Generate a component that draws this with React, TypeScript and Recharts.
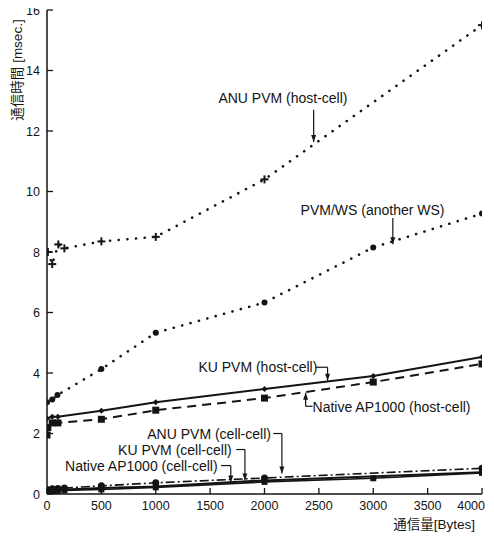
import React from 'react';
import { LineChart, Line, XAxis, YAxis, ReferenceLine, ReferenceDot } from 'recharts';

const FONT = 'Arial, "Liberation Sans", "Noto Sans CJK JP", sans-serif';
const INK = '#141414';

// ---- axes ----
const xTicks = [0, 500, 1000, 1500, 2000, 2500, 3000, 3500, 4000];
const yTicks = [0, 2, 4, 6, 8, 10, 12, 14, 16];
const xTitle = '通信量[Bytes]';
const yTitle = '通信時間 [msec.]';

// ---- series (x = bytes, y = msec) ----
const anuHostX = [8, 48, 104, 160, 500, 1000, 2000, 4000];
const anuHostY = [8.0, 7.6, 8.25, 8.12, 8.35, 8.5, 10.4, 15.5];

const pvmWsX = [0, 48, 96, 500, 1000, 2000, 3000, 4000];
const pvmWsY = [3.03, 3.12, 3.27, 4.13, 5.33, 6.33, 8.15, 9.27];

const kuHostX = [0, 48, 100, 500, 1000, 2000, 3000, 4000];
const kuHostY = [2.5, 2.55, 2.55, 2.75, 3.03, 3.47, 3.9, 4.53];

const nativeHostX = [0, 8, 48, 100, 500, 1000, 2000, 3000, 4000];
const nativeHostY = [1.95, 2.2, 2.35, 2.35, 2.47, 2.77, 3.17, 3.7, 4.3];

const anuCellX = [0, 48, 100, 160, 500, 1000, 2000, 4000];
const anuCellY = [0.15, 0.17, 0.18, 0.2, 0.27, 0.37, 0.53, 0.85];

const kuCellX = [0, 48, 100, 160, 500, 1000, 2000, 4000];
const kuCellY = [0.12, 0.13, 0.14, 0.15, 0.2, 0.25, 0.45, 0.72];

const nativeCellX = [0, 48, 100, 160, 500, 1000, 2000, 3000, 4000];
const nativeCellY = [0.08, 0.1, 0.1, 0.12, 0.15, 0.22, 0.4, 0.52, 0.7];

// ---- annotation labels ----
const labelTexts = [
  'ANU PVM (host-cell)',
  'PVM/WS (another WS)',
  'KU PVM (host-cell)',
  'Native AP1000 (host-cell)',
  'ANU PVM (cell-cell)',
  'KU PVM (cell-cell)',
  'Native AP1000 (cell-cell)',
];
// text anchor (left, middle) in data units
const labelX = [1576, 2332, 1392, 2442, 922, 654, 166];
const labelY = [13.1, 9.39, 4.19, 2.86, 2.0, 1.47, 0.94];
// leader: from (fromX, fromY) horizontally to elbowX, then vertically to tipY
const leaderFromX = [2452, 3180, 2470, 2442, 2080, 1740, 1600];
const leaderFromY = [12.7, 9.12, 4.19, 2.9, 2.0, 1.47, 0.94];
const leaderElbowX = [2452, 3180, 2580, 2378, 2160, 1820, 1690];
const leaderTipY = [11.64, 8.26, 3.74, 3.35, 0.68, 0.45, 0.38];
const leaderDir = ['down', 'down', 'down', 'up', 'down', 'down', 'down'];

const pts = (xs: number[], ys: number[]) => xs.map((x, i) => ({ x, y: ys[i] }));

const anuHost = pts(anuHostX, anuHostY);
const pvmWs = pts(pvmWsX, pvmWsY);
const kuHost = pts(kuHostX, kuHostY);
const nativeHost = pts(nativeHostX, nativeHostY);
const anuCell = pts(anuCellX, anuCellY);
const kuCell = pts(kuCellX, kuCellY);
const nativeCell = pts(nativeCellX, nativeCellY);

// ---- markers ----
const plusDot = (p: any) => {
  if (p.cx == null || p.cy == null) return <g key={p.index} />;
  return (
    <g key={p.index} stroke={INK} strokeWidth={2}>
      <line x1={p.cx - 4} y1={p.cy} x2={p.cx + 4} y2={p.cy} />
      <line x1={p.cx} y1={p.cy - 4} x2={p.cx} y2={p.cy + 4} />
    </g>
  );
};
const diamondDot = (size: number) => (p: any) => {
  if (p.cx == null || p.cy == null) return <g key={p.index} />;
  const s = size;
  return (
    <polygon
      key={p.index}
      points={`${p.cx},${p.cy - s} ${p.cx + s},${p.cy} ${p.cx},${p.cy + s} ${p.cx - s},${p.cy}`}
      fill={INK}
    />
  );
};
const circleDot = (r: number) => (p: any) => {
  if (p.cx == null || p.cy == null) return <g key={p.index} />;
  return <circle key={p.index} cx={p.cx} cy={p.cy} r={r} fill={INK} />;
};
const squareDot = (s: number) => (p: any) => {
  if (p.cx == null || p.cy == null) return <g key={p.index} />;
  return <rect key={p.index} x={p.cx - s} y={p.cy - s} width={2 * s} height={2 * s} fill={INK} />;
};

// ---- ticks (drawn inward) ----
const BottomTick = (p: any) => {
  const last = p.index === xTicks.length - 1;
  return (
    <g>
      <line x1={p.x} y1={p.y} x2={p.x} y2={p.y - 6} stroke={INK} strokeWidth={1.3} />
      <text
        x={last ? p.x + 3 : p.x}
        y={p.y + 16}
        textAnchor={last ? 'end' : 'middle'}
        fontSize={12.5}
        fontFamily={FONT}
        style={{ fill: INK }}
      >
        {p.payload.value}
      </text>
    </g>
  );
};
const LeftTick = (p: any) => (
  <g>
    <line x1={p.x} y1={p.y} x2={p.x + 6} y2={p.y} stroke={INK} strokeWidth={1.3} />
    <text x={p.x - 7} y={p.y + 4.5} textAnchor="end" fontSize={12.5} fontFamily={FONT} style={{ fill: INK }}>
      {p.payload.value}
    </text>
  </g>
);
const RightTick = (p: any) => (
  <line x1={p.x} y1={p.y} x2={p.x - 6} y2={p.y} stroke={INK} strokeWidth={1.3} />
);
const TopTick = (p: any) => (
  <line x1={p.x} y1={p.y} x2={p.x} y2={p.y + 6} stroke={INK} strokeWidth={1.3} />
);

const YTitle = (p: any) => {
  const vb = p.viewBox;
  const x = vb.x + 9;
  const y = vb.y + 60;
  return (
    <text
      x={x}
      y={y}
      transform={`rotate(-90 ${x} ${y})`}
      textAnchor="middle"
      dominantBaseline="central"
      fontSize={13.5}
      fontFamily={FONT}
      style={{ fill: INK }}
    >
      {yTitle}
    </text>
  );
};
const XTitle = (p: any) => {
  const vb = p.viewBox;
  return (
    <text
      x={vb.x + vb.width - 7}
      y={vb.y + 35}
      textAnchor="end"
      fontSize={13.5}
      fontFamily={FONT}
      style={{ fill: INK }}
    >
      {xTitle}
    </text>
  );
};

const arrowShape = (dir: string) => (p: any) => {
  const { cx, cy } = p;
  if (cx == null || cy == null) return <g />;
  const d = dir === 'down' ? -1 : 1;
  return (
    <polygon
      points={`${cx},${cy} ${cx - 2.5},${cy + d * 7} ${cx + 2.5},${cy + d * 7}`}
      fill={INK}
    />
  );
};
const textShape = (t: string) => (p: any) => {
  const { cx, cy } = p;
  if (cx == null || cy == null) return <g />;
  return (
    <text x={cx} y={cy} dominantBaseline="central" fontSize={14} fontFamily={FONT} style={{ fill: INK }}>
      {t}
    </text>
  );
};

export default function App() {
  return (
    <div style={{ width: 486, height: 538, marginTop: -8, background: '#fff' }}>
      <LineChart width={486} height={538} margin={{ top: 10, right: 12, bottom: 0, left: 0 }}>
        <XAxis
          xAxisId={0}
          dataKey="x"
          type="number"
          domain={[0, 4000]}
          ticks={xTicks}
          allowDataOverflow
          height={44}
          tickSize={0}
          tickMargin={0}
          tickLine={false}
          tick={BottomTick}
          interval={0}
          stroke={INK}
          strokeWidth={1.5}
          label={<XTitle />}
        />
        <XAxis
          xAxisId="top"
          orientation="top"
          dataKey="x"
          type="number"
          domain={[0, 4000]}
          ticks={xTicks}
          height={0}
          tickSize={0}
          tickMargin={0}
          tickLine={false}
          tick={TopTick}
          interval={0}
          stroke={INK}
          strokeWidth={1.5}
        />
        <YAxis
          yAxisId={0}
          type="number"
          domain={[0, 16]}
          ticks={yTicks}
          allowDataOverflow
          width={39}
          tickSize={0}
          tickMargin={0}
          tickLine={false}
          tick={LeftTick}
          interval={0}
          stroke={INK}
          strokeWidth={1.5}
          label={<YTitle />}
        />
        <YAxis
          yAxisId="right"
          orientation="right"
          type="number"
          domain={[0, 16]}
          ticks={yTicks}
          width={0}
          tickSize={0}
          tickMargin={0}
          tickLine={false}
          tick={RightTick}
          interval={0}
          stroke={INK}
          strokeWidth={1.5}
        />

        <Line data={anuHost} dataKey="y" stroke={INK} strokeWidth={2.6} strokeDasharray="0.1 8.6"
          strokeLinecap="round" dot={plusDot} isAnimationActive={false} />
        <Line data={pvmWs} dataKey="y" stroke={INK} strokeWidth={2.6} strokeDasharray="0.1 8.6"
          strokeLinecap="round" dot={circleDot(3)} isAnimationActive={false} />
        <Line data={kuHost} dataKey="y" stroke={INK} strokeWidth={2} dot={diamondDot(3)}
          isAnimationActive={false} />
        <Line data={nativeHost} dataKey="y" stroke={INK} strokeWidth={2} strokeDasharray="9 6"
          dot={squareDot(3.5)} isAnimationActive={false} />
        <Line data={anuCell} dataKey="y" stroke={INK} strokeWidth={1.6} strokeDasharray="9 3 2 3"
          dot={circleDot(3.5)} isAnimationActive={false} />
        <Line data={kuCell} dataKey="y" stroke={INK} strokeWidth={2} dot={diamondDot(3.5)}
          isAnimationActive={false} />
        <Line data={nativeCell} dataKey="y" stroke={INK} strokeWidth={1.6} dot={squareDot(3)}
          isAnimationActive={false} />

        {labelTexts.map((t, i) => (
          <ReferenceLine
            key={`h${i}`}
            segment={[
              { x: leaderFromX[i], y: leaderFromY[i] },
              { x: leaderElbowX[i], y: leaderFromY[i] },
            ]}
            stroke={INK}
            strokeWidth={1.2}
            ifOverflow="visible"
          />
        ))}
        {labelTexts.map((t, i) => (
          <ReferenceLine
            key={`v${i}`}
            segment={[
              { x: leaderElbowX[i], y: leaderFromY[i] },
              { x: leaderElbowX[i], y: leaderTipY[i] },
            ]}
            stroke={INK}
            strokeWidth={1.2}
            ifOverflow="visible"
          />
        ))}
        {labelTexts.map((t, i) => (
          <ReferenceDot
            key={`a${i}`}
            x={leaderElbowX[i]}
            y={leaderTipY[i]}
            r={0}
            ifOverflow="visible"
            shape={arrowShape(leaderDir[i])}
          />
        ))}
        {labelTexts.map((t, i) => (
          <ReferenceDot
            key={`t${i}`}
            x={labelX[i]}
            y={labelY[i]}
            r={0}
            ifOverflow="visible"
            shape={textShape(t)}
          />
        ))}
      </LineChart>
    </div>
  );
}
